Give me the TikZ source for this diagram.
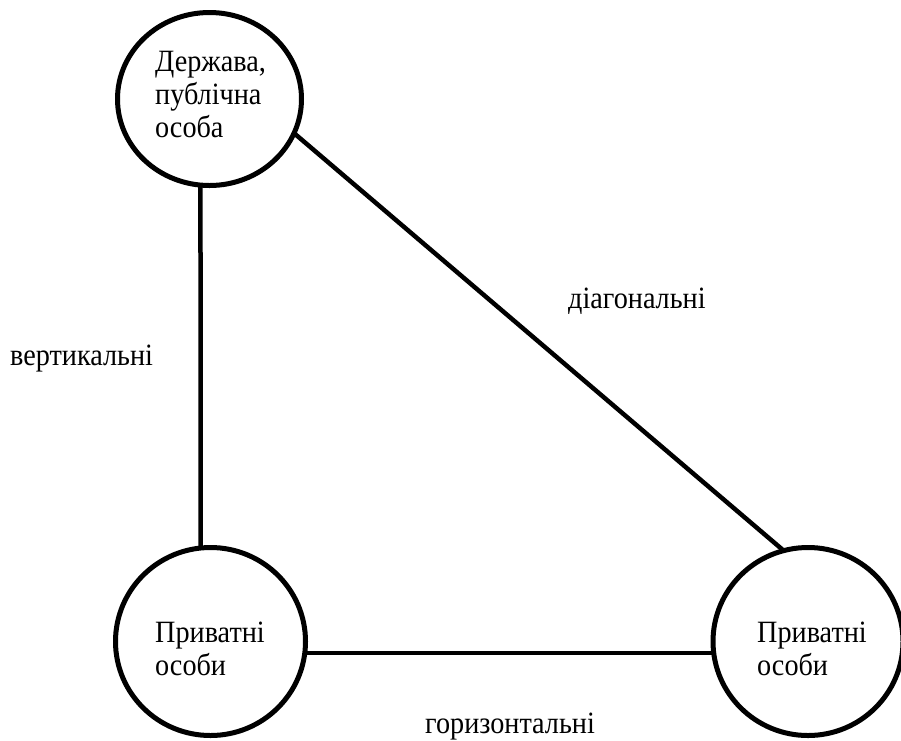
\documentclass[tikz,border=0pt]{standalone}
\usepackage{fontspec}
\setmainfont{Liberation Serif}
\newfontfamily\reffont[FakeStretch=0.91]{Liberation Serif}
\usetikzlibrary{shapes.geometric}
\begin{document}
\begin{tikzpicture}[x=1pt,y=-1pt,
  party/.style={draw=black, line width=5pt, ellipse, inner sep=0pt, outer sep=0pt},
  ptext/.style={anchor=base west, inner sep=0pt, align=left, font=\reffont\fontsize{31}{33}\selectfont},
  link/.style={draw=black, line width=4.5pt},
  lbl/.style={anchor=base west, inner sep=0pt, font=\reffont\fontsize{31}{33}\selectfont}]
\useasboundingbox[fill=white] (0,0) rectangle (901,740);
\node[party, minimum width=184pt, minimum height=173pt] (top) at (209.5,99) {};
\node[party, minimum width=190pt, minimum height=188pt] (bl) at (210.5,641.5) {};
\node[party, minimum width=190pt, minimum height=188pt] (br) at (808,641.5) {};
\node[ptext] (toptext) at (155,137) {Держава,\\публічна\\особа};
\node[ptext] (bltext) at (155,675) {Приватні\\особи};
\node[ptext] (brtext) at (757,675) {Приватні\\особи};
\draw[link] (top.-96) -- (bl.96);
\draw[link] (top.-22) -- (br.105);
\draw[link] (bl.-7) -- (br.187);
\node[lbl] (v) at (10,365) {вертикальні};
\node[lbl] (d) at (568,308) {діагональні};
\node[lbl] (h) at (425,733) {горизонтальні};
\end{tikzpicture}
\end{document}
